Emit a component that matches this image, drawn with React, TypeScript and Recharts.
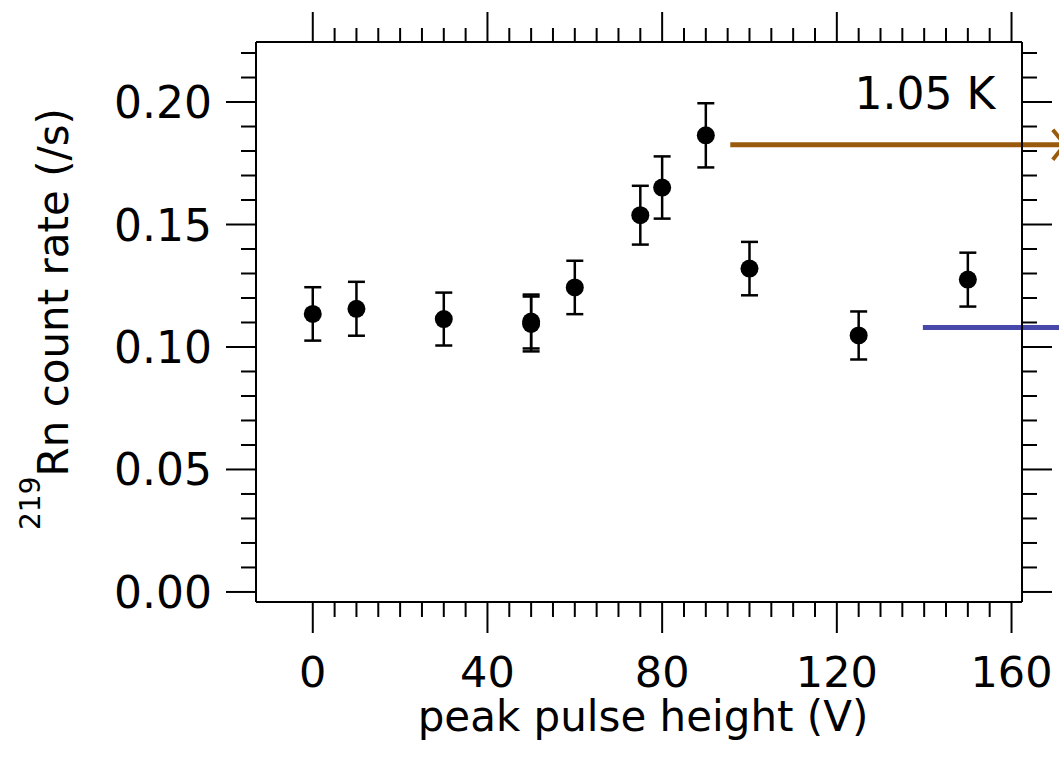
import React from "react";
import {
  ComposedChart,
  Scatter,
  ErrorBar,
  XAxis,
  YAxis,
  ReferenceLine,
  ReferenceDot,
} from "recharts";

// peak pulse height (V) vs 219Rn count rate (/s)
const pulseHeights = [0, 10, 30, 50, 50, 60, 75, 80, 90, 100, 125, 150];
const countRates = [
  0.1135, 0.1156, 0.1114, 0.1104, 0.1094, 0.1243, 0.1538, 0.1651, 0.1864,
  0.132, 0.1047, 0.1275,
];
const rateErrors = [
  0.0109, 0.011, 0.0108, 0.011, 0.0112, 0.0109, 0.012, 0.0127, 0.0131,
  0.0109, 0.0098, 0.011,
];

// horizontal arrows (start voltage, level)
const brownArrow = { from: 95.6, to: 172.2, level: 0.1826 };
const blueArrow = { from: 139.7, to: 180, level: 0.108 };
const tempLabel = { text: "1.05 K", x: 156.3, y: 0.197 };

const xTicks = [
  0, 5, 10, 15, 20, 25, 30, 35, 40, 45, 50, 55, 60, 65, 70, 75, 80, 85, 90,
  95, 100, 105, 110, 115, 120, 125, 130, 135, 140, 145, 150, 155, 160,
];
const xMajor = [0, 40, 80, 120, 160];
const yTicks = [
  0, 0.01, 0.02, 0.03, 0.04, 0.05, 0.06, 0.07, 0.08, 0.09, 0.1, 0.11, 0.12,
  0.13, 0.14, 0.15, 0.16, 0.17, 0.18, 0.19, 0.2, 0.21, 0.22,
];
const yMajor = [0, 0.05, 0.1, 0.15, 0.2];

const points = pulseHeights.map((x, i) => ({
  x,
  y: countRates[i],
  err: rateErrors[i],
}));

const FONT = "DejaVu Sans";
const X_DOMAIN: [number, number] = [-13, 162.4];
const Y_DOMAIN: [number, number] = [-0.0041, 0.2245];

const isXMajor = (v: number) => xMajor.includes(v);
const isYMajor = (v: number) => yMajor.some((m) => Math.abs(m - v) < 1e-6);

function BottomTick({ x, y, payload }: any) {
  const major = isXMajor(payload.value);
  return (
    <g>
      <line x1={x} x2={x} y1={y} y2={y + (major ? 31 : 15)} stroke="#000" strokeWidth={2} />
      {major && (
        <text x={x} y={y + 85} textAnchor="middle" fontSize={43} fontFamily={FONT} fill="#000">
          {payload.value}
        </text>
      )}
    </g>
  );
}

function TopTick({ x, y, payload }: any) {
  const major = isXMajor(payload.value);
  return <line x1={x} x2={x} y1={y} y2={y - (major ? 30 : 14)} stroke="#000" strokeWidth={2} />;
}

function LeftTick({ x, y, payload }: any) {
  const major = isYMajor(payload.value);
  return (
    <g>
      <line x1={x - (major ? 30 : 15)} x2={x} y1={y} y2={y} stroke="#000" strokeWidth={2} />
      {major && (
        <text x={x - 44} y={y + 16} textAnchor="end" fontSize={44} fontFamily={FONT} fill="#000">
          {payload.value.toFixed(2)}
        </text>
      )}
    </g>
  );
}

function RightTick({ x, y, payload }: any) {
  const major = isYMajor(payload.value);
  return <line x1={x} x2={x + (major ? 30 : 15)} y1={y} y2={y} stroke="#000" strokeWidth={2} />;
}

function Arrow({ x1, y1, x2, y2, color }: any) {
  return (
    <g>
      <line x1={x1} y1={y1} x2={x2} y2={y2} stroke={color} strokeWidth={5} />
      <polyline
        points={`${x2 - 12},${y2 - 15} ${x2},${y2} ${x2 - 12},${y2 + 15}`}
        fill="none"
        stroke={color}
        strokeWidth={4}
      />
    </g>
  );
}

function YTitle({ viewBox }: any) {
  const cx = 68;
  const cy = viewBox ? viewBox.y + viewBox.height / 2 - 3 : 319;
  return (
    <text
      transform={`translate(${cx},${cy}) rotate(-90)`}
      textAnchor="middle"
      fontFamily={FONT}
      fill="#000"
    >
      <tspan fontSize={28} dy={-28}>219</tspan>
      <tspan fontSize={42} dy={28}>Rn count rate (/s)</tspan>
    </text>
  );
}

function XTitle({ viewBox }: any) {
  const cx = viewBox ? viewBox.x + viewBox.width / 2 + 4 : 643;
  return (
    <text x={cx} y={731} textAnchor="middle" fontSize={42} fontFamily={FONT} fill="#000">
      peak pulse height (V)
    </text>
  );
}

export default function App() {
  return (
    <div style={{ width: 1059, height: 765, background: "#fff" }}>
      <style>{"body{margin:0;background:#fff}"}</style>
      <ComposedChart
        width={1059}
        height={765}
        data={points}
        margin={{ top: 0, right: 0, bottom: 0, left: 0 }}
      >
        <XAxis
          xAxisId="b"
          dataKey="x"
          type="number"
          orientation="bottom"
          height={163}
          domain={X_DOMAIN}
          allowDataOverflow
          ticks={xTicks}
          interval={0}
          tickSize={0}
          tickMargin={0}
          tickLine={false}
          tick={<BottomTick />}
          axisLine={{ stroke: "#000", strokeWidth: 2 }}
          label={<XTitle />}
        />
        <XAxis
          xAxisId="t"
          dataKey="x"
          type="number"
          orientation="top"
          height={42}
          domain={X_DOMAIN}
          allowDataOverflow
          ticks={xTicks}
          interval={0}
          tickSize={0}
          tickMargin={0}
          tickLine={false}
          tick={<TopTick />}
          axisLine={{ stroke: "#000", strokeWidth: 2 }}
        />
        <YAxis
          yAxisId="l"
          dataKey="y"
          type="number"
          orientation="left"
          width={256}
          domain={Y_DOMAIN}
          allowDataOverflow
          ticks={yTicks}
          interval={0}
          tickSize={0}
          tickMargin={0}
          tickLine={false}
          tick={<LeftTick />}
          axisLine={{ stroke: "#000", strokeWidth: 2 }}
          label={<YTitle />}
        />
        <YAxis
          yAxisId="r"
          dataKey="y"
          type="number"
          orientation="right"
          width={37}
          domain={Y_DOMAIN}
          allowDataOverflow
          ticks={yTicks}
          interval={0}
          tickSize={0}
          tickMargin={0}
          tickLine={false}
          tick={<RightTick />}
          axisLine={{ stroke: "#000", strokeWidth: 2 }}
        />
        <ReferenceLine
          xAxisId="b"
          yAxisId="l"
          ifOverflow="visible"
          segment={[
            { x: brownArrow.from, y: brownArrow.level },
            { x: brownArrow.to, y: brownArrow.level },
          ]}
          shape={(p: any) => <Arrow {...p} color="#9a5a0c" />}
        />
        <ReferenceLine
          xAxisId="b"
          yAxisId="l"
          ifOverflow="visible"
          segment={[
            { x: blueArrow.from, y: blueArrow.level },
            { x: blueArrow.to, y: blueArrow.level },
          ]}
          shape={(p: any) => <Arrow {...p} color="#4848aa" />}
        />
        <ReferenceDot
          xAxisId="b"
          yAxisId="l"
          x={tempLabel.x}
          y={tempLabel.y}
          r={0}
          ifOverflow="visible"
          shape={(p: any) => (
            <text x={p.cx} y={p.cy} textAnchor="end" fontSize={44} fontFamily={FONT} fill="#000">
              {tempLabel.text}
            </text>
          )}
        />
        <Scatter
          xAxisId="b"
          yAxisId="l"
          dataKey="y"
          fill="#000"
          isAnimationActive={false}
          shape={(p: any) => <circle cx={p.cx} cy={p.cy} r={9} fill="#000" />}
        >
          <ErrorBar dataKey="err" direction="y" width={8.5} stroke="#000" strokeWidth={2.5} />
        </Scatter>
      </ComposedChart>
    </div>
  );
}
